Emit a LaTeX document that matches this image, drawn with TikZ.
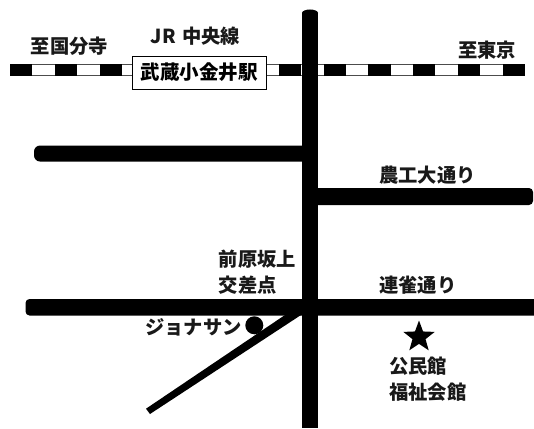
\documentclass[tikz,border=0pt]{standalone}
\usepackage{fontspec}
\setmainfont{Noto Sans CJK JP}
\usetikzlibrary{shapes.geometric}
\tikzset{
  x=1pt,y=-1pt,
  lbl/.style={anchor=west,inner sep=0pt,font=\fontsize{19.3}{19.3}\selectfont\bfseries,text=black!90},
  road/.style={fill=black,draw=none},
  blk/.style={fill=black,draw=none},
  tie/.style={fill=white,draw=none},
}
\begin{document}
\begin{tikzpicture}
\useasboundingbox (0,0) rectangle (534,428);
% railway
\fill[black!70] (10,63.6) rectangle (523,76.4);
\fill[tie] (10,65) rectangle (523,75);
\foreach \k in {0,...,11}{
  \fill[blk] ({10+44.8*\k},64.4) rectangle ({32.2+44.8*\k},75.6);
}
% station
\node[draw=black,line width=1pt,fill=white,minimum width=134pt,minimum height=33pt,inner sep=0pt,font=\fontsize{19.5}{19.5}\selectfont\bfseries] (station) at (199,72.5) {武蔵小金井駅};
% roads
\fill[road] (302,13) rectangle (318,428);
\fill[road] (310,13) ellipse[x radius=8,y radius=3.5];
\fill[road,rounded corners=6pt] (34,145.5) rectangle (310,161.5);
\fill[road,rounded corners=4pt] (310,188) rectangle (533,205);
\fill[road,rounded corners=4pt] (25.5,299) rectangle (560,315.5);
\fill[road] (285,315) -- (301,315) -- (150,414) -- (146,408.7) -- cycle;
% landmarks
\node[circle,fill=black,minimum size=18pt,inner sep=0pt] (jon) at (254.3,325.3) {};
\node[star,star points=5,star point ratio=2.4,fill=black,minimum size=33pt,inner sep=0pt] (star) at (419,337) {};
% labels
\node[lbl] (a) at (30.5,46) {至国分寺};
\node[lbl] (b) at (150.5,36) {JR\hspace{2pt} 中央線};
\node[lbl] (c) at (458,50.5) {至東京};
\node[lbl] (d) at (379,175) {農工大通り};
\node[lbl] (e) at (218.5,259) {前原坂上};
\node[lbl] (f) at (218.5,285) {交差点};
\node[lbl] (g) at (379,285) {連雀通り};
\node[lbl] (h) at (145,327) {ジョナサン};
\node[lbl] (i) at (389,366) {公民館};
\node[lbl] (j) at (389,392) {福祉会館};
\end{tikzpicture}
\end{document}
